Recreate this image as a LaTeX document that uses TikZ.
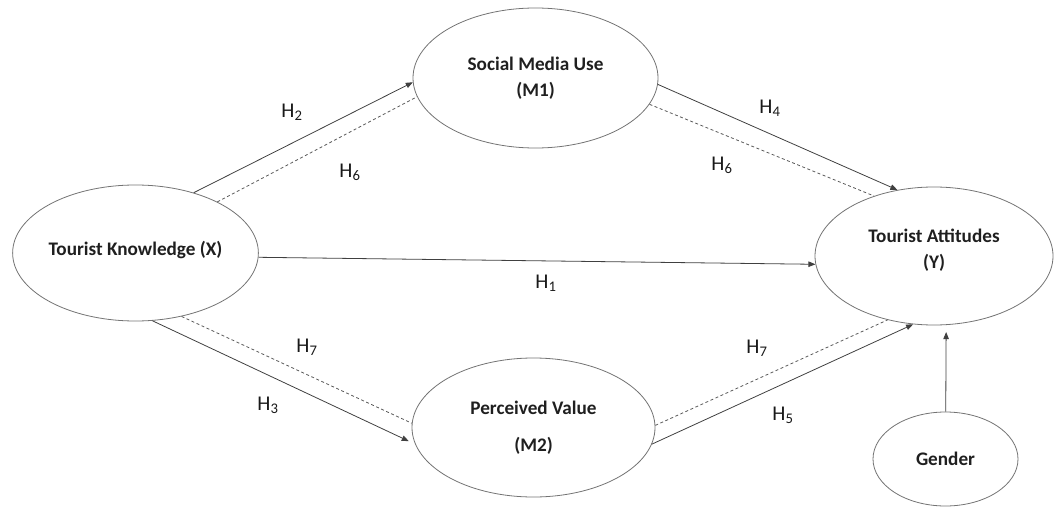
\documentclass[tikz,border=0pt]{standalone}
\usepackage{fontspec}
\setmainfont{Carlito}
\usetikzlibrary{shapes.geometric,arrows.meta}
\begin{document}
\begin{tikzpicture}[x=1pt,y=-1pt,
  construct/.style={ellipse, draw=black!55, line width=0.8pt, inner sep=0pt, align=center,
    font=\fontsize{19.2}{22}\selectfont\bfseries, text=black!88},
  causal/.style={draw=black!75, line width=0.8pt, -{Triangle[length=7pt,width=5.5pt]}},
  mediation/.style={draw=black!65, line width=0.8pt, dash pattern=on 3pt off 2.5pt},
  hyp/.style={font=\fontsize{21}{24}\selectfont, inner sep=0pt, text=black!90}]
\useasboundingbox (0,0) rectangle (1055,508);

% constructs
\node[construct, minimum width=245pt, minimum height=136pt, text depth=10pt] (X) at (135.5,253) {Tourist Knowledge (X)};
\node[construct, minimum width=245pt, minimum height=140pt] (M1) at (535.5,78) {Social Media Use\\[4pt](M1)};
\node[construct, minimum width=243pt, minimum height=139pt] (M2) at (533.5,427.5) {Perceived Value\\[15pt](M2)};
\node[construct, minimum width=238pt, minimum height=138pt, text depth=14pt] (Y) at (934,256) {Tourist Attitudes\\[4pt](Y)};
\node[construct, minimum width=145pt, minimum height=94pt] (G) at (945.5,459) {Gender};

% direct paths
\draw[causal] (X.46.7) -- (M1.182.3);
\draw[causal] (M1.-3.3) -- (Y.119.8);
\draw[causal] (X.-2.1) -- (Y.184.3);
\draw[causal, shorten >=7pt] (X.-76.7) -- (M2.188);
\draw[causal] (M2.-8.8) -- (Y.253);
\draw[causal, shorten >=7pt] (G) -- (Y.-80.5);

% mediation paths
\draw[mediation] (X.32) -- (M1.189.7);
\draw[mediation] (M1.-13) -- (Y.135);
\draw[mediation] (X.-54.7) -- (M2.178.8);
\draw[mediation] (M2.1.2) -- (Y.234.3);

% hypothesis labels
\node[hyp] (h2) at (292,112) {H\textsubscript{2}};
\node[hyp] (h6a) at (350,172) {H\textsubscript{6}};
\node[hyp] (h4) at (770,108) {H\textsubscript{4}};
\node[hyp] (h6b) at (722,165) {H\textsubscript{6}};
\node[hyp] (h1) at (546,283) {H\textsubscript{1}};
\node[hyp] (h7a) at (307,347) {H\textsubscript{7}};
\node[hyp] (h3) at (268,405) {H\textsubscript{3}};
\node[hyp] (h7b) at (757,348) {H\textsubscript{7}};
\node[hyp] (h5) at (783,415) {H\textsubscript{5}};
\end{tikzpicture}
\end{document}
